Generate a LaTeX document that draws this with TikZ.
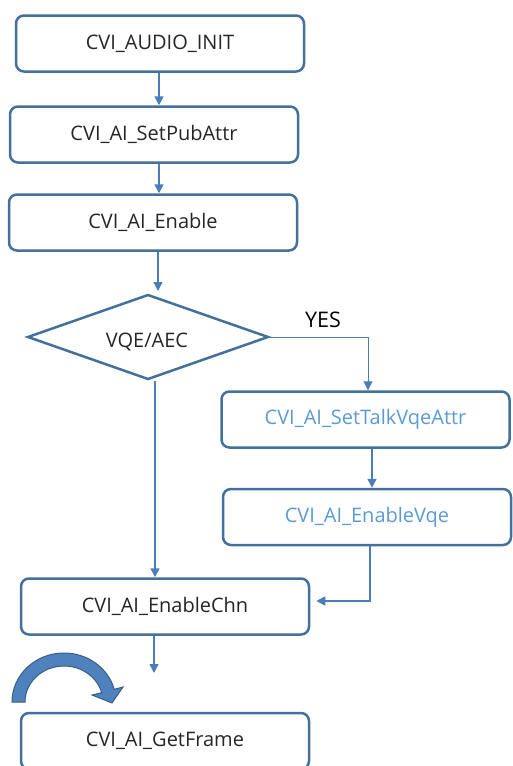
\documentclass[tikz,border=0pt]{standalone}
\usepackage{fontspec}
\setmainfont{Open Sans}
\usetikzlibrary{shapes.geometric,arrows.meta}
\definecolor{boxline}{HTML}{41719C}
\definecolor{conn}{HTML}{4A7EBB}
\definecolor{txt}{HTML}{262626}
\definecolor{bluetxt}{HTML}{5B9BD5}
\definecolor{cafill}{HTML}{4F81BD}
\definecolor{caline}{HTML}{385D8A}
\begin{document}
\begin{tikzpicture}[x=1pt,y=-1pt,
  stepbox/.style={draw=boxline, line width=2.5pt, rounded corners=8pt, fill=white,
    minimum width=288pt, minimum height=56pt, inner sep=0pt, text=txt,
    font=\fontsize{20}{24}\selectfont},
  decision/.style={draw=boxline, line width=2.5pt, diamond, aspect=2.8, inner sep=0pt,
    minimum width=241pt, minimum height=85pt, text=txt, font=\fontsize{20}{24}\selectfont},
  conn/.style={draw=conn, line width=1.5pt, -{Triangle[width=9pt,length=9pt]}},
  lbl/.style={text=black, font=\fontsize{21.5}{24}\selectfont}]
\useasboundingbox (0,0) rectangle (513,766);
\clip (0,0) rectangle (513,766);
\node[stepbox] (b1) at (160,43.5) {CVI\_AUDIO\_INIT};
\node[stepbox] (b2) at (154,134.5) {CVI\_AI\_SetPubAttr};
\node[stepbox] (b3) at (153,222.5) {CVI\_AI\_Enable};
\node[decision] (d) at (148,337) {};
\node[text=txt, font=\fontsize{20}{24}\selectfont] (dt) at (147,342) {VQE/AEC};
\node[stepbox, text=bluetxt] (b4) at (365.5,419.5) {CVI\_AI\_SetTalkVqeAttr};
\node[stepbox, text=bluetxt] (b5) at (367,517) {CVI\_AI\_EnableVqe};
\node[stepbox] (b6) at (165,606.5) {CVI\_AI\_EnableChn};
\node[stepbox] (b7) at (165,741) {CVI\_AI\_GetFrame};
\node[lbl] (yes) at (323,320) {YES};
\coordinate (e1) at (154,673);
\coordinate (dtop) at (158,291);
% connectors
\draw[conn] (b1.south -| 159,0) -- (b2.north -| 159,0);
\draw[conn] (b2.south -| 159,0) -- (b3.north -| 159,0);
\draw[conn] (b3.south -| dtop) -- (dtop);
\draw[conn, line width=1pt] (d.east) -| ([xshift=2.5pt]b4.north);
\draw[conn] (b4.south -| 372,0) -- (b5.north -| 372,0);
\draw[conn] (b5.south -| 370,0) |- ([xshift=6pt,yshift=5.5pt]b6.east);
\draw[conn] ([xshift=7pt]d.south) -- ([xshift=-10pt]b6.north);
\draw[conn] (b6.south -| e1) -- (e1);
% curved arrow
\filldraw[fill=cafill, draw=caline, line width=1pt]
  (12,702) arc[start angle=180, end angle=345, x radius=52, y radius=49]
  -- (123,687) -- (112,703) -- (92,695) -- (101.7,692.7)
  arc[start angle=345, end angle=180, x radius=39, y radius=36] -- cycle;
\end{tikzpicture}
\end{document}
